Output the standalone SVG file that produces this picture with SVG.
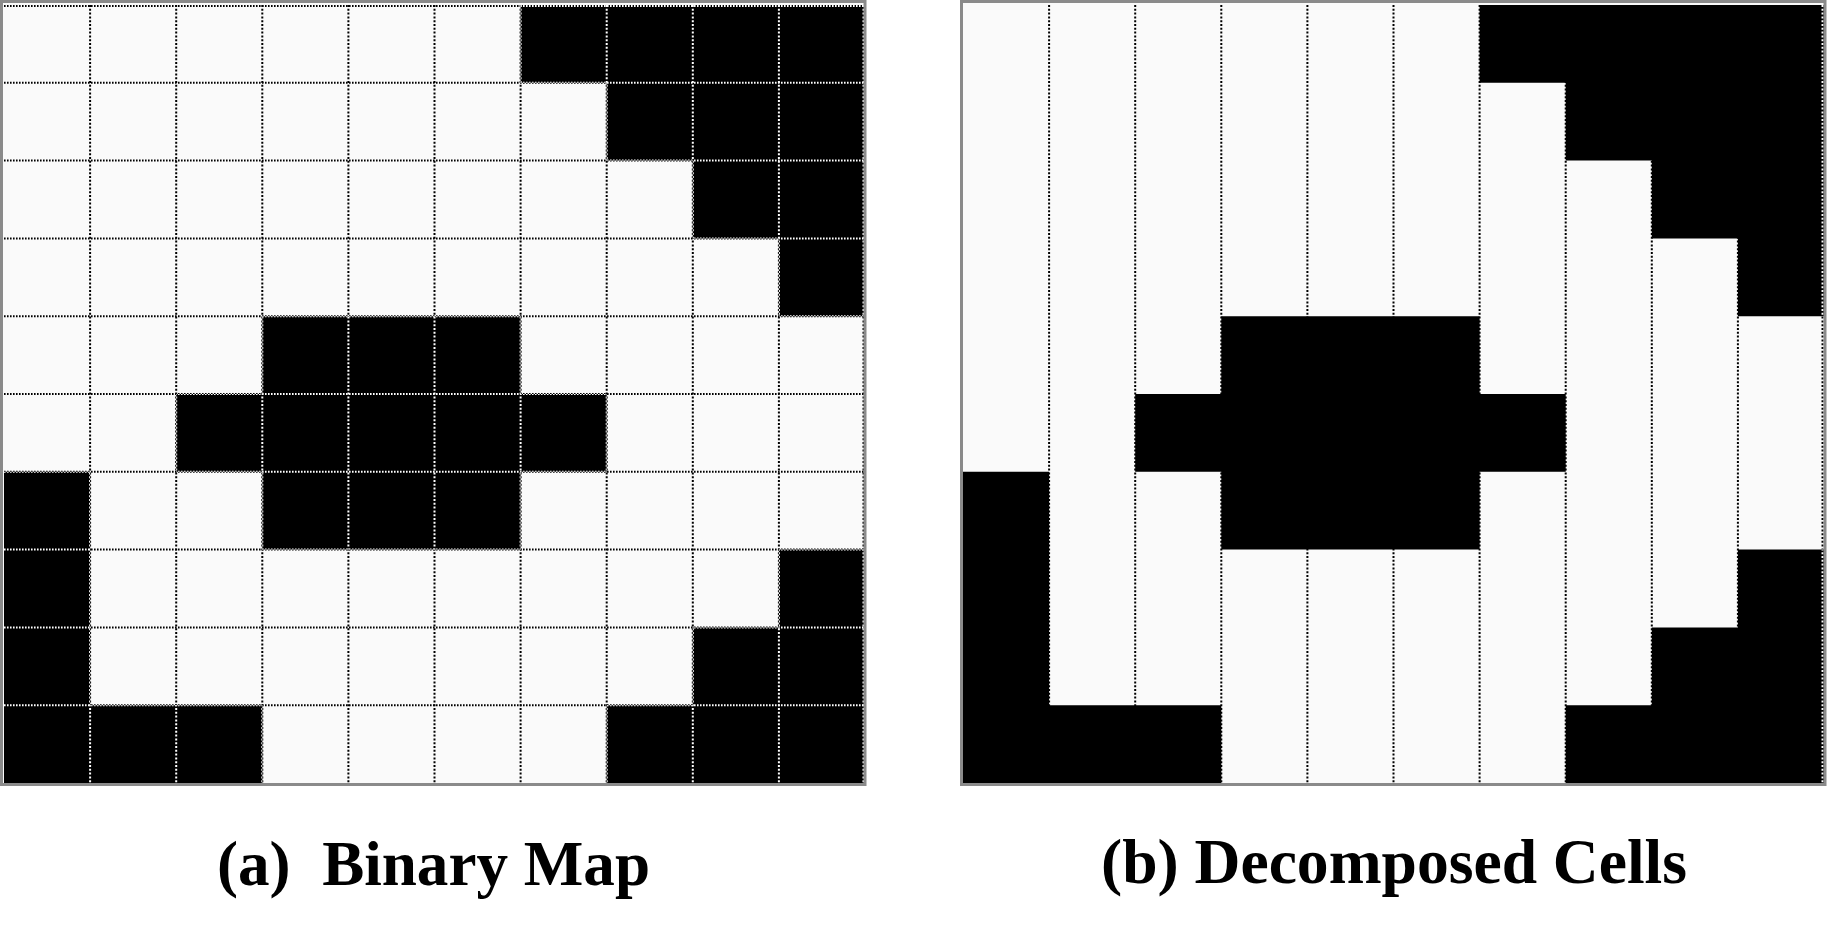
<svg xmlns="http://www.w3.org/2000/svg" xmlns:xlink="http://www.w3.org/1999/xlink" width="1828" height="939" viewBox="0 0 1828 939">
<style>
.bg{fill:#fafafa}
.blk{fill:#000}
.frame{fill:none;stroke:#8a8a8a;stroke-width:3}
.dh{stroke:#000;stroke-width:2;stroke-dasharray:1.6 1.4;fill:none}
.dv{stroke:#000;stroke-width:2;stroke-dasharray:2 1.8;fill:none}
.wh{stroke:#fff}
.cap{font-family:"Liberation Serif","Times New Roman",serif;font-weight:bold;font-size:64px;fill:#000}
</style>
<defs>
<path id="cells" d="M520.6 5h344.4v77.8h-344.4z M606.7 82.8h258.3v77.8h-258.3z M692.8 160.6h172.2v77.8h-172.2z M778.9 238.4h86.1v77.8h-86.1z M262.3 316.2h258.3v77.8h-258.3z M176.2 394h430.5v77.8h-430.5z M4 471.8h86.1v311.2h-86.1z M262.3 471.8h258.3v77.8h-258.3z M778.9 549.6h86.1v77.8h-86.1z M90.1 705.2h172.2v77.8h-172.2z M692.8 627.4h172.2v155.6h-172.2z M606.7 705.2h86.1v77.8h-86.1z"/>
<clipPath id="clipA"><use xlink:href="#cells"/></clipPath>
<clipPath id="clipB"><use xlink:href="#cells" x="959"/></clipPath>
<g id="vlines">
<path d="M90.1 5V783 M176.2 5V783 M262.3 5V783 M348.4 5V783 M434.5 5V783 M520.6 5V783 M606.7 5V783 M692.8 5V783 M778.9 5V783 M863.5 5V783"/>
</g>
<g id="hlines">
<path d="M4 6H865 M4 82.8H865 M4 160.6H865 M4 238.4H865 M4 316.2H865 M4 394H865 M4 471.8H865 M4 549.6H865 M4 627.4H865 M4 705.2H865"/>
</g>
</defs>

<g id="panel-a">
<rect class="bg" x="2" y="2" width="863" height="782"/>
<use xlink:href="#cells" class="blk"/>
<use xlink:href="#vlines" class="dv"/>
<use xlink:href="#hlines" class="dh"/>
<g clip-path="url(#clipA)">
<use xlink:href="#vlines" class="dv wh"/>
<use xlink:href="#hlines" class="dh wh"/>
</g>
<rect class="frame" x="1.5" y="1.5" width="863.5" height="783"/>
</g>

<g id="panel-b">
<rect class="bg" x="961" y="2" width="863" height="782"/>
<use xlink:href="#cells" x="959" class="blk"/>
<use xlink:href="#vlines" x="959" class="dv"/>
<g clip-path="url(#clipB)">
<path class="dv wh" d="M1822.5 5V783"/>
</g>
<rect class="frame" x="961.5" y="1.5" width="863.5" height="783"/>
</g>

<g id="caption-a">
<text class="cap" x="217" y="885" textLength="433" lengthAdjust="spacingAndGlyphs" xml:space="preserve">(a)  Binary Map</text>
</g>
<g id="caption-b">
<text class="cap" x="1101" y="883" textLength="586" lengthAdjust="spacingAndGlyphs">(b) Decomposed Cells</text>
</g>
</svg>
